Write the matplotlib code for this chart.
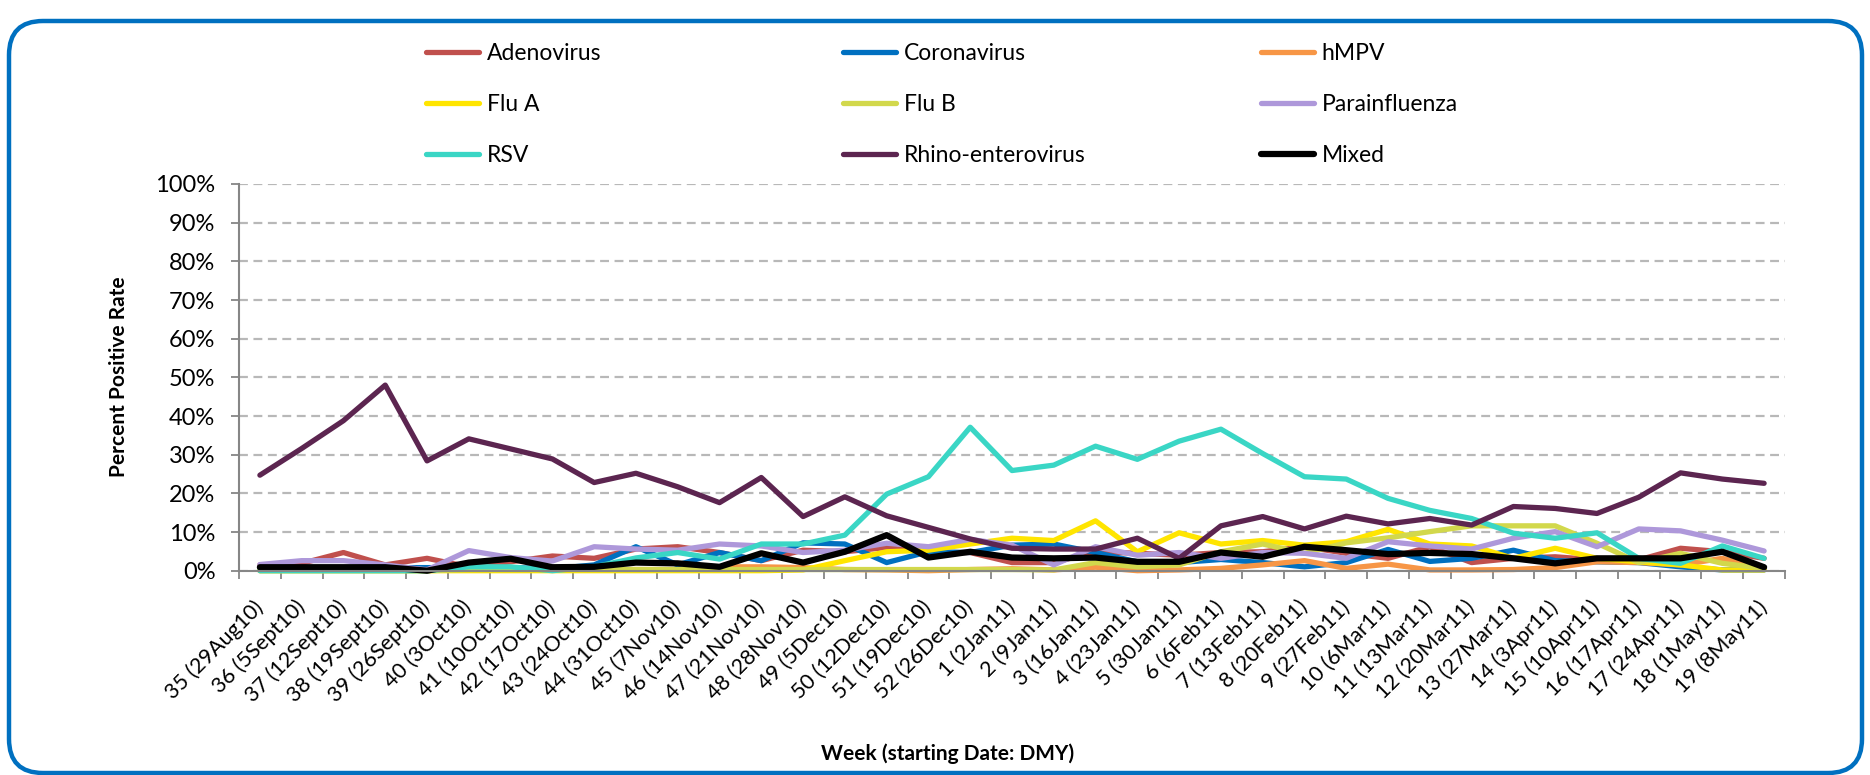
import matplotlib
matplotlib.use('Agg')
import matplotlib.pyplot as plt
from matplotlib.patches import FancyBboxPatch
from matplotlib.ticker import PercentFormatter, FixedLocator
import numpy as np

plt.rcParams['font.family'] = ['Lato', 'DejaVu Sans']

weeks = ["35 (29Aug10)", "36 (5Sept10)", "37 (12Sept10)", "38 (19Sept10)", "39 (26Sept10)",
         "40 (3Oct10)", "41 (10Oct10)", "42 (17Oct10)", "43 (24Oct10)", "44 (31Oct10)",
         "45 (7Nov10)", "46 (14Nov10)", "47 (21Nov10)", "48 (28Nov10)", "49 (5Dec10)",
         "50 (12Dec10)", "51 (19Dec10)", "52 (26Dec10)", "1 (2Jan11)", "2 (9Jan11)",
         "3 (16Jan11)", "4 (23Jan11)", "5 (30Jan11)", "6 (6Feb11)", "7 (13Feb11)",
         "8 (20Feb11)", "9 (27Feb11)", "10 (6Mar11)", "11 (13Mar11)", "12 (20Mar11)",
         "13 (27Mar11)", "14 (3Apr11)", "15 (10Apr11)", "16 (17Apr11)", "17 (24Apr11)",
         "18 (1May11)", "19 (8May11)"]

adenovirus = [1.5, 1.9, 4.7, 1.5, 3.2, 1.0, 2.3, 3.8, 3.2, 5.6,
              6.2, 4.7, 2.6, 5.3, 4.9, 6.0, 4.7, 4.7, 2.1, 2.1,
              4.9, 4.5, 4.0, 4.7, 4.9, 6.2, 4.5, 3.2, 6.2, 2.1,
              3.2, 3.6, 2.8, 2.8, 5.8, 4.9, 3.2]
coronavirus = [0.8, 0.8, 0.8, 0.8, 0.8, 0.8, 0.8, 0.5, 1.5, 6.2,
               1.5, 4.7, 2.6, 7.2, 6.9, 2.1, 4.9, 4.7, 6.6, 6.9,
               4.7, 2.3, 2.1, 2.9, 2.1, 1.0, 2.1, 5.5, 2.4, 3.2,
               5.3, 2.6, 2.3, 2.1, 1.0, 0.2, 0.2]
hmpv = [0.3, 0.3, 0.3, 0.3, 0.3, 0.3, 0.3, 0.3, 0.3, 0.3,
        0.3, 1.0, 1.0, 0.8, 0.3, 0.2, 0.0, 0.3, 0.5, 0.2,
        0.9, 0.0, 0.2, 0.6, 1.5, 2.6, 0.6, 1.7, 0.2, 0.2,
        0.3, 0.8, 2.3, 2.1, 1.5, 3.2, 0.3]
flu_a = [0.0, 0.0, 0.0, 0.0, 0.0, 0.0, 0.0, 0.0, 0.0, 0.0,
         0.0, 0.0, 0.0, 0.2, 2.6, 4.9, 5.3, 6.9, 8.4, 7.8,
         12.9, 4.9, 9.8, 6.9, 7.8, 6.6, 7.5, 10.7, 6.9, 6.4,
         3.2, 5.8, 3.2, 2.3, 1.5, 0.2, 0.2]
flu_b = [0.0, 0.0, 0.0, 0.0, 0.0, 0.3, 0.3, 0.3, 0.3, 0.3,
         0.3, 0.3, 0.3, 0.3, 0.3, 0.3, 0.3, 0.3, 0.3, 0.2,
         2.1, 1.0, 1.5, 4.9, 6.9, 4.5, 7.2, 8.5, 10.1, 11.6,
         11.6, 11.6, 7.1, 2.1, 4.5, 1.9, 0.6]
parainfluenza = [1.6, 2.6, 2.6, 1.5, 0.2, 5.2, 3.4, 2.5, 6.2, 5.6,
                 5.3, 6.9, 6.4, 4.7, 5.3, 7.1, 6.2, 8.1, 6.6, 1.5,
                 6.2, 4.0, 4.7, 3.2, 4.7, 4.5, 3.2, 7.5, 6.4, 5.6,
                 8.4, 10.1, 6.2, 10.8, 10.3, 7.9, 5.1]
rsv = [0.0, 0.0, 0.0, 0.0, 0.0, 1.0, 1.0, 0.0, 1.0, 3.3,
       4.7, 3.0, 6.9, 6.9, 9.2, 19.8, 24.3, 37.1, 25.9, 27.3,
       32.2, 28.8, 33.5, 36.6, 30.3, 24.3, 23.7, 18.7, 15.6, 13.5,
       9.7, 8.4, 9.8, 3.2, 1.9, 6.4, 3.2]
rhino_enterovirus = [24.7, 31.6, 38.8, 48.0, 28.4, 34.1, 31.5, 28.9, 22.8, 25.2,
                     21.7, 17.6, 24.1, 14.0, 19.1, 14.2, 11.2, 8.2, 5.8, 5.6,
                     5.6, 8.4, 3.2, 11.6, 14.0, 10.8, 14.1, 12.1, 13.5, 11.8,
                     16.6, 16.1, 14.8, 19.0, 25.3, 23.7, 22.6]
mixed = [0.9, 0.9, 0.9, 0.9, 0.0, 2.1, 3.1, 0.9, 1.0, 2.1,
         1.9, 1.0, 4.5, 2.1, 4.9, 9.2, 3.4, 4.9, 3.4, 3.2,
         3.4, 2.3, 2.3, 4.7, 3.6, 6.2, 5.3, 4.3, 4.6, 4.3,
         3.2, 1.9, 3.2, 3.2, 3.2, 4.9, 0.9]

series_names = ["Adenovirus", "Coronavirus", "hMPV", "Flu A", "Flu B",
                "Parainfluenza", "RSV", "Rhino-enterovirus", "Mixed"]
series_values = [adenovirus, coronavirus, hmpv, flu_a, flu_b,
                 parainfluenza, rsv, rhino_enterovirus, mixed]
series_colors = ["#C0504D", "#0070C0", "#F79646", "#FFE500", "#D2D84C",
                 "#AE98DA", "#3AD6C5", "#5C2550", "#000000"]

W, H = 1870, 775
fig = plt.figure(figsize=(W / 100, H / 100), dpi=100)

ax_l, ax_r, ax_t, ax_b = 239, 1785, 184, 570.7
ax = fig.add_axes([ax_l / W, (H - ax_b) / H, (ax_r - ax_l) / W, (ax_b - ax_t) / H])

x = np.arange(len(weeks))
handles = []
for name, vals, col in zip(series_names, series_values, series_colors):
    lw = 4.5 if name == "Mixed" else 3.8
    h, = ax.plot(x, np.array(vals) / 100.0, color=col, lw=lw, label=name,
                 solid_capstyle='round', solid_joinstyle='round', clip_on=False)
    handles.append(h)

ax.set_xlim(-0.5, len(weeks) - 0.5)
ax.set_ylim(0, 1)
ax.set_yticks(np.arange(0, 1.01, 0.1))
ax.yaxis.set_major_formatter(PercentFormatter(1.0, decimals=0))
ax.yaxis.grid(True, linestyle=(0, (4, 2.5)), color='#B8B8B8', lw=1.6)
ax.set_axisbelow(True)

ax.set_xticks(x)
ax.set_xticklabels(weeks, rotation=45, ha='right', va='center', rotation_mode='anchor')
ax.xaxis.set_minor_locator(FixedLocator(np.arange(-0.5, len(weeks), 1.0)))
ax.tick_params(axis='x', which='major', length=0, pad=24, labelsize=15.5)
ax.tick_params(axis='x', which='minor', length=6, width=1.3, color='#868686', direction='out')
ax.tick_params(axis='y', which='major', length=6, width=1.3, color='#868686', direction='out',
               labelsize=17, pad=11)

for s in ['top', 'right']:
    ax.spines[s].set_visible(False)
for s in ['left', 'bottom']:
    ax.spines[s].set_color('#868686')
    ax.spines[s].set_linewidth(1.5)

fig.text(119 / W, 1 - 377 / H, "Percent Positive Rate", rotation=90, ha='center', va='center',
         fontsize=15, fontweight='bold')
fig.text(948 / W, 1 - 754 / H, "Week (starting Date: DMY)", ha='center', va='center',
         fontsize=15, fontweight='bold')

# legend: three columns, row-major order as in reference
col_x = [426, 843, 1261]
for c in range(3):
    hs = [handles[r * 3 + c] for r in range(3)]
    fig.legend(handles=hs, labels=[h.get_label() for h in hs], loc='upper left',
               bbox_to_anchor=(col_x[c] / W, 1 - 43 / H), frameon=False, fontsize=16.5,
               handlelength=2.3, handletextpad=0.35, labelspacing=1.3,
               borderpad=0, borderaxespad=0)

# rounded blue frame
frame = FancyBboxPatch((9 / 100, 2 / 100), (1862 - 9) / 100, (773 - 21) / 100,
                       boxstyle='round,pad=0,rounding_size=0.34',
                       transform=fig.dpi_scale_trans, fill=False,
                       edgecolor='#0070C0', lw=3.2, clip_on=False)
fig.add_artist(frame)

fig.savefig('out.png', dpi=100)
